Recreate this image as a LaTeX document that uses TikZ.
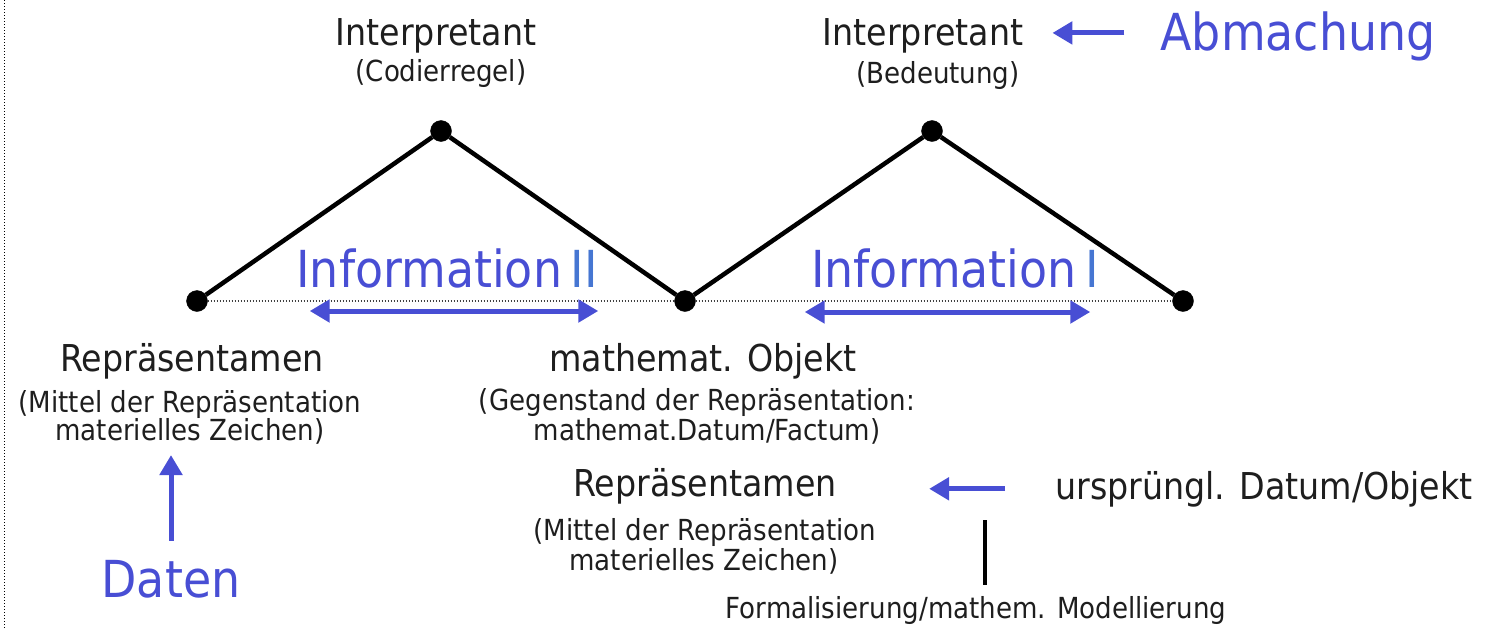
\documentclass[tikz,border=0pt]{standalone}
\usepackage{fontspec}
\setmainfont[FakeStretch=0.9]{DejaVu Sans}
\usetikzlibrary{positioning,arrows.meta}
\definecolor{infoblue}{RGB}{72,78,212}
\definecolor{numblue}{RGB}{70,118,210}
\definecolor{ink}{RGB}{30,30,30}
\tikzstyle{vertex} = [draw, circle, fill, inner sep=0pt, minimum size=21pt]
\tikzstyle{term} = [text=ink, inner sep=1pt, anchor=base, font=\fontsize{37}{40}\selectfont]
\tikzstyle{gloss} = [text=ink, inner sep=1pt, anchor=base, font=\fontsize{29}{32}\selectfont]
\tikzstyle{keyword} = [text=infoblue, inner sep=1pt, anchor=base, font=\fontsize{51}{54}\selectfont]
\tikzstyle{edge} = [line width=4.5pt]
\tikzstyle{base} = [line width=2.5pt, black!75, dash pattern=on 1.5pt off 1.5pt]
\tikzstyle{flow} = [line width=5pt, infoblue, ->]
\tikzstyle{span} = [line width=5pt, infoblue, <->]

\begin{document}
\begin{tikzpicture}[x=1pt, y=-1pt, >={Triangle[length=20pt,width=22pt]}]
\useasboundingbox (0,0) rectangle (1490,629);
\draw [line width=1pt, dash pattern=on 1pt off 2pt] (4,0) -- (4,629);

\node [vertex] (rep) at (197,301) {};
\node [vertex] (codier) at (441,131) {};
\node [vertex] (obj) at (685,301) {};
\node [vertex] (bedeut) at (932,131) {};
\node [vertex] (datum) at (1183,301) {};

\draw [edge] (rep) -- (codier) -- (obj) -- (bedeut) -- (datum);
\draw [base] (rep) -- (obj) -- (datum);

\node [term] (int1) at (436,45) {Interpretant};
\node [gloss] (int1g) at (441,81) {(Codierregel)};
\node [term] (int2) at (923,45) {Interpretant};
\node [gloss] (int2g) at (938,83) {(Bedeutung)};
\node [keyword] (abm) at (1298,50) {Abmachung};
\draw [flow, shorten <=35pt, shorten >=28pt] ([yshift=3pt]abm.west) -- ([yshift=3pt]abm.west -| int2.east);

\node [keyword] (info2) at (447,287) {Information\,\textcolor{numblue}{II}};
\node [keyword] (info1) at (955,287) {Information\,\textcolor{numblue}{I}};
\draw [span, shorten <=102pt, shorten >=76pt] ([yshift=-10pt]rep.east) -- ([yshift=-10pt]obj.west);
\draw [span, shorten <=109pt, shorten >=82pt] ([yshift=-11pt]obj.east) -- ([yshift=-11pt]datum.west);

\node [term] (rep1) at (192,371) {Repräsentamen};
\node [gloss] (rep1a) at (190,412) {(Mittel der Repräsentation};
\node [gloss] (rep1b) at (190,440) {materielles Zeichen)};
\node [keyword] (daten) at (171,597) {Daten};
\draw [flow, shorten <=18pt, shorten >=10pt] (daten.north) -- (daten.north |- rep1b.south);

\node [term] (obj1) at (703,371) {mathemat. Objekt};
\node [gloss] (obj1a) at (697,410) {(Gegenstand der Repräsentation:};
\node [gloss] (obj1b) at (707,440) {mathemat.Datum/Factum)};

\node [term] (rep2) at (705,496) {Repräsentamen};
\node [gloss] (rep2a) at (705,540) {(Mittel der Repräsentation};
\node [gloss] (rep2b) at (704,570) {materielles Zeichen)};

\node [term] (ursp) at (1264,499) {ursprüngl. Datum/Objekt};
\draw [flow, shorten <=49pt, shorten >=91pt] (ursp.west) -- (ursp.west -| rep2.east);

\node [gloss] (formal) at (976,618) {Formalisierung/mathem. Modellierung};
\coordinate (formtop) at (985,520);
\draw [edge, shorten >=10pt] (formtop) -- (formtop |- formal.north);

\end{tikzpicture}
\end{document}
